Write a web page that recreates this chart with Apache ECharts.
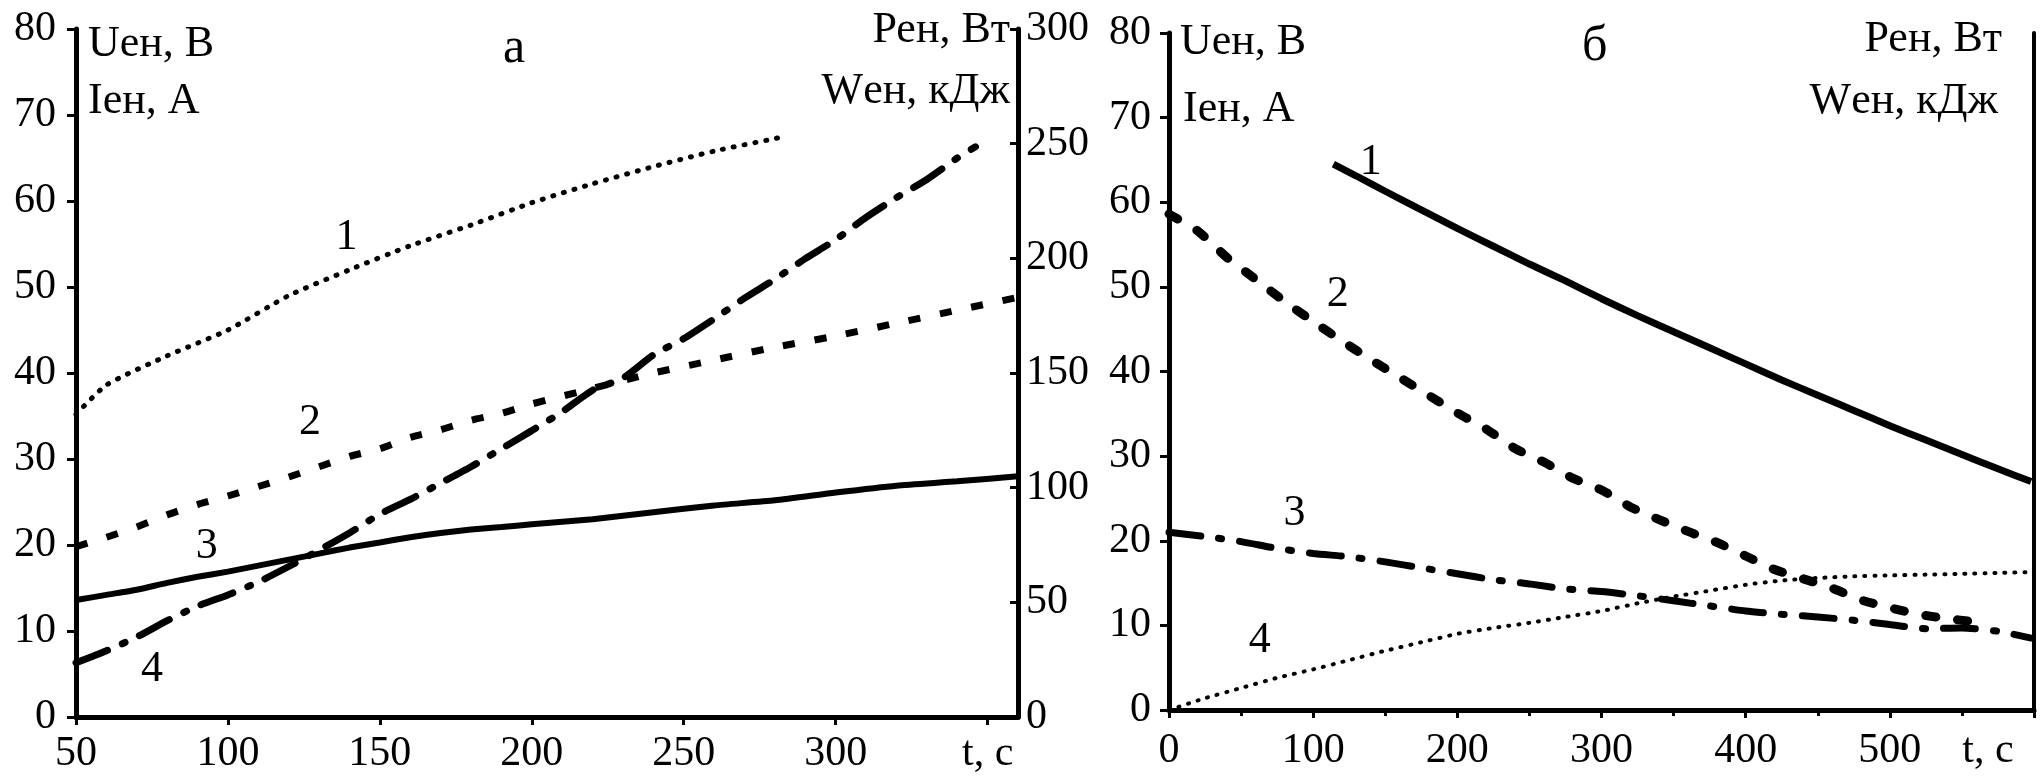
<!DOCTYPE html>
<html>
<head>
<meta charset="utf-8">
<script src="https://cdn.jsdelivr.net/npm/echarts@6/dist/echarts.min.js"></script>
<style>
html,body{margin:0;padding:0;background:#fff;}
#c{width:2044px;height:782px;}
</style>
</head>
<body>
<div id="c"></div>
<script>
// ---- Panel "а" (t from 50 s) ----
const aT1 = [50,60,80,100,120,140,160,180,200,220,240,260,282];
const aV1 = [35.2,38.6,42.0,45.0,49.0,52.0,54.8,57.2,59.8,62.0,64.0,65.8,67.4];
const aT2 = [50,60,70,80,90,100,110,120,130,140,150,160,170,180,190,200,220,240,260,280,300,320,340,360];
const aV2 = [19.8,20.9,22.1,23.5,24.7,25.7,26.8,27.9,29.1,30.3,31.2,32.5,33.4,34.5,35.3,36.4,38.2,40.0,41.5,43.0,44.3,45.8,47.3,48.8];
const aT3 = [50,60,70,80,90,100,110,120,130,140,150,160,170,180,190,200,220,240,260,280,300,320,340,360];
const aV3 = [13.6,14.2,14.8,15.6,16.3,16.9,17.6,18.3,19.0,19.7,20.3,20.9,21.4,21.8,22.1,22.4,23.0,23.8,24.6,25.2,26.1,26.9,27.4,28.0];
const aT4 = [50,60,70,80,90,100,110,120,130,140,150,160,170,180,190,200,210,220,230,240,250,260,270,280,290,300,310,320,330,340,346];
const aV4 = [6.3,7.7,9.3,11.2,12.9,14.2,15.7,17.5,19.4,21.4,23.6,25.3,27.2,29.1,31.2,33.3,35.5,38.0,39.4,42.1,44.0,46.3,48.7,50.9,53.3,55.5,58.1,60.4,62.5,65.0,66.3];
const aLabels = [[139,55.8,'1'],[127,34.2,'2'],[93,19.8,'3'],[75,5.5,'4']];

// ---- Panel "б" (t from 0 s) ----
const bT1 = [114,130,150,175,200,225,250,275,300,325,350,375,400,425,450,475,500,525,550,575,598];
const bV1 = [64.5,63.1,61.3,59.1,56.9,54.8,52.7,50.7,48.6,46.6,44.7,42.8,40.9,39.0,37.2,35.4,33.6,31.9,30.2,28.5,27.0];
const bT2 = [0,20,40,60,80,100,120,140,160,180,200,220,240,260,280,300,320,340,360,380,400,420,440,460,480,500,520,540,555];
const bV2 = [58.6,56.6,53.5,50.9,48.3,45.9,43.6,41.4,39.3,37.2,35.1,33.2,30.9,29.3,27.4,26.0,24.0,22.5,21.1,19.8,18.2,16.6,15.5,14.4,13.0,12.1,11.3,10.8,10.5];
const bT3 = [0,25,50,75,100,125,150,175,200,225,250,275,300,325,350,375,400,425,450,475,500,525,550,575,598];
const bV3 = [21.0,20.5,19.9,19.1,18.5,18.1,17.5,16.8,16.1,15.4,14.9,14.3,14.0,13.5,12.9,12.3,11.7,11.3,11.0,10.6,10.1,9.6,9.7,9.3,8.5];
const bT4 = [0,25,50,75,100,125,150,175,200,225,250,275,300,325,350,375,400,425,450,475,500,525,550,575,598];
const bV4 = [0,1.4,2.6,3.8,4.8,5.9,7.0,8.0,9.0,9.7,10.3,11.0,11.7,12.6,13.4,14.1,14.8,15.3,15.6,15.8,15.9,16.0,16.1,16.2,16.3];
const bLabels = [[140,64.7,'1'],[117,49.1,'2'],[87,23.2,'3'],[63,8.2,'4']];

// ---- tick / axis texts ----
const xTicksA = {min:50, max:360, interval:50, endLabel:350, endText:'t, c'};
const xTicksB = {min:0, max:600, interval:100};
const yLeft = {min:0, max:80, interval:10};
const yRightA = {min:0, max:300, interval:50};

const FONT = 'Liberation Serif';
const BLACK = '#000';
const zip = (t, v) => t.map((x, i) => [x, v[i]]);

const axisLine = w => ({show:true, onZero:false, lineStyle:{color:BLACK, width:w}});
const labelStyle = (m) => ({color:BLACK, fontFamily:FONT, fontSize:42, margin:m});

function lineSeries(xi, yi, t, v, style) {
  return {
    type:'line', xAxisIndex:xi, yAxisIndex:yi, data:zip(t, v),
    symbol:'none', smooth:0.2, silent:true, animation:false,
    lineStyle:Object.assign({color:BLACK, opacity:1}, style)
  };
}
function labelSeries(xi, yi, arr) {
  return {
    type:'scatter', xAxisIndex:xi, yAxisIndex:yi, data:arr, symbolSize:0, silent:true,
    itemStyle:{opacity:1, color:BLACK},
    label:{show:true, position:'inside', formatter:p => p.value[2], color:BLACK, opacity:1,
           textBorderWidth:0, fontFamily:FONT, fontSize:44}
  };
}

const titleStyle = (fs) => ({color:BLACK, fontFamily:FONT, fontSize:fs, fontWeight:'normal'});

const option = {
  backgroundColor:'#fff',
  animation:false,
  title:[
    {text:'Uен, В', left:88, top:22, padding:0, textStyle:titleStyle(44)},
    {text:'Iен, А', left:88, top:79, padding:0, textStyle:titleStyle(44)},
    {text:'а', left:503, top:24, padding:0, textStyle:titleStyle(50)},
    {text:'Рен, Вт', right:1034, top:8, padding:0, textStyle:titleStyle(44)},
    {text:'Wен, кДж', right:1034, top:69, padding:0, textStyle:titleStyle(44)},
    {text:'Uен, В', left:1180, top:20, padding:0, textStyle:titleStyle(44)},
    {text:'Iен, А', left:1183, top:87, padding:0, textStyle:titleStyle(44)},
    {text:'б', left:1582, top:22, padding:0, textStyle:titleStyle(50)},
    {text:'Рен, Вт', right:42, top:17, padding:0, textStyle:titleStyle(44)},
    {text:'Wен, кДж', right:46, top:79, padding:0, textStyle:titleStyle(44)}
  ],
  grid:[
    {left:76, right:1026, top:29, bottom:65},
    {left:1169, right:10, top:33, bottom:72}
  ],
  xAxis:[
    {gridIndex:0, type:'value', min:xTicksA.min, max:xTicksA.max, interval:xTicksA.interval,
     axisLine:axisLine(5), axisTick:{show:true, length:8, lineStyle:{color:BLACK, width:3}},
     splitLine:{show:false},
     axisLabel:Object.assign(labelStyle(16), {formatter:v => v === xTicksA.endLabel ? xTicksA.endText : String(v)})},
    {gridIndex:1, type:'value', min:xTicksB.min, max:xTicksB.max, interval:xTicksB.interval,
     axisLine:axisLine(5), axisTick:{show:true, length:8, lineStyle:{color:BLACK, width:3}},
     minorTick:{show:true, splitNumber:2, length:6, lineStyle:{color:BLACK, width:3}},
     splitLine:{show:false},
     axisLabel:Object.assign(labelStyle(20), {formatter:v => v === xTicksB.max ? '' : String(v)}),
     name:'t, c', nameLocation:'end', nameGap:-46,
     nameTextStyle:{color:BLACK, fontFamily:FONT, fontSize:42, align:'center', verticalAlign:'top', padding:[20,0,0,0]}}
  ],
  yAxis:[
    {gridIndex:0, type:'value', position:'left', min:yLeft.min, max:yLeft.max, interval:yLeft.interval,
     axisLine:axisLine(5), axisTick:{show:true, length:9, lineStyle:{color:BLACK, width:3}},
     splitLine:{show:false}, axisLabel:labelStyle(20)},
    {gridIndex:0, type:'value', position:'right', min:yRightA.min, max:yRightA.max, interval:yRightA.interval,
     axisLine:axisLine(5), axisTick:{show:true, inside:true, length:8, lineStyle:{color:BLACK, width:3}},
     splitLine:{show:false}, axisLabel:labelStyle(8)},
    {gridIndex:1, type:'value', position:'left', min:yLeft.min, max:yLeft.max, interval:yLeft.interval,
     axisLine:axisLine(5), axisTick:{show:true, length:9, lineStyle:{color:BLACK, width:3}},
     splitLine:{show:false}, axisLabel:labelStyle(18)},
    {gridIndex:1, type:'value', position:'right', min:yLeft.min, max:yLeft.max, interval:yLeft.interval,
     axisLine:axisLine(4), axisTick:{show:false}, splitLine:{show:false}, axisLabel:{show:false}}
  ],
  series:[
    lineSeries(0,0,aT1,aV1,{width:5, type:[1,10], cap:'round'}),
    lineSeries(0,0,aT2,aV2,{width:7, type:[12,20], cap:'butt'}),
    lineSeries(0,0,aT3,aV3,{width:6, type:'solid'}),
    lineSeries(0,0,aT4,aV4,{width:7, type:[34,16,3,16], cap:'round'}),
    labelSeries(0,0,aLabels),
    lineSeries(1,2,bT1,bV1,{width:7, type:'solid'}),
    lineSeries(1,2,bT2,bV2,{width:9, type:[10,22], cap:'round'}),
    lineSeries(1,2,bT3,bV3,{width:7, type:[32,18,3,18], cap:'round'}),
    lineSeries(1,2,bT4,bV4,{width:4, type:[1,9], cap:'round'}),
    labelSeries(1,2,bLabels)
  ]
};

const chart = echarts.init(document.getElementById('c'), null, {renderer:'canvas'});
chart.setOption(option);
</script>
</body>
</html>
